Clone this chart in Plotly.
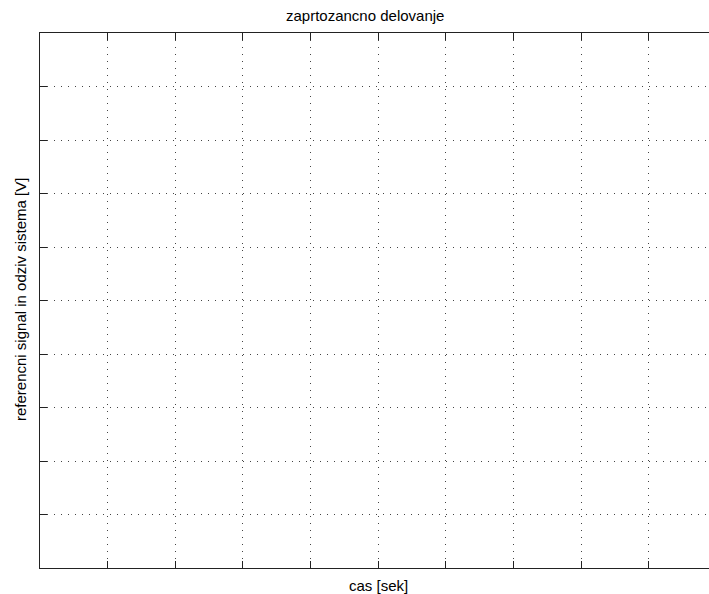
import plotly.graph_objects as go

# Axis ticks / grid positions (no tick labels shown in the reference)
x_ticks = [1, 2, 3, 4, 5, 6, 7, 8, 9, 10]
y_ticks = [1, 2, 3, 4, 5, 6, 7, 8, 9]
x_range = [0, 10.05]
y_range = [0, 10]

title_text = "zaprtozancno delovanje"
x_label = "cas [sek]"
y_label = "referencni signal in odziv sistema [V]"

# figure slightly wider than the 709px window: right edge of axes is off-screen,
# as in the reference
W, H = 720, 594
ml, mr, mt, mb = 40, 0, 33, 26
pw = W - ml - mr
ph = H - mt - mb

fig = go.Figure()
fig.add_trace(go.Scatter(x=[], y=[], mode="lines", showlegend=False))

axis_common = dict(
    showticklabels=False,
    ticks="inside",
    ticklen=7,
    tickcolor="#222222",
    showline=True,
    linecolor="#222222",
    linewidth=1.3,
    showgrid=True,
    gridcolor="#444444",
    gridwidth=1,
    griddash="1px,6px",
    zeroline=False,
)

fig.update_xaxes(range=x_range, tickvals=x_ticks, mirror="ticks", **axis_common)
fig.update_yaxes(range=y_range, tickvals=y_ticks, mirror=False, **axis_common)

font = dict(family="Liberation Sans, Arial, sans-serif", size=15, color="black")

fig.update_layout(
    width=W, height=H,
    margin=dict(l=ml, r=mr, t=mt, b=mb, pad=0),
    paper_bgcolor="white",
    plot_bgcolor="white",
    showlegend=False,
    font=font,
    annotations=[
        dict(text=title_text, xref="paper", yref="paper",
             x=(365 - ml) / pw, y=1 + (33 - 15) / ph, showarrow=False,
             xanchor="center", yanchor="middle", font=font),
        dict(text=x_label, xref="paper", yref="paper",
             x=(378 - ml) / pw, y=-(585 - 568) / ph, showarrow=False,
             xanchor="center", yanchor="middle", font=font),
        dict(text=y_label, xref="paper", yref="paper",
             x=-(40 - 20) / pw, y=(568 - 300) / ph, showarrow=False,
             xanchor="center", yanchor="middle", textangle=-90, font=font),
    ],
)

fig.write_html(
    "out.html",
    config={"displayModeBar": False},
    post_script="document.body.style.margin='0';document.body.style.overflow='hidden';",
)
